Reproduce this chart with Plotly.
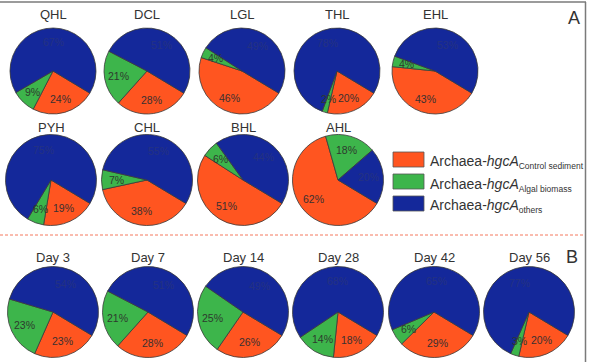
import math
import plotly.graph_objects as go

# ---------------- data ----------------
groups = ["QHL", "DCL", "LGL", "THL", "EHL",
          "PYH", "CHL", "BHL", "AHL",
          "Day 3", "Day 7", "Day 14", "Day 28", "Day 42", "Day 56"]
control_sediment = [24, 28, 46, 20, 43, 19, 38, 51, 62, 23, 28, 26, 18, 29, 20]
algal_biomass = [9, 21, 4, 2, 4, 6, 7, 6, 18, 23, 21, 25, 14, 6, 3]
others = [67, 51, 49, 78, 53, 75, 55, 44, 20, 54, 51, 49, 68, 65, 77]

series_labels = ["Control sediment", "Algal biomass", "others"]
series_colors = ["#FF5520", "#3DB54B", "#14289A"]
text_colors = ["#3a3030", "#2e3a2e", "#243282"]

# ---------------- layout helpers ----------------
W, H = 591, 362
FONT = "Liberation Sans, Arial, sans-serif"

centers = [(53, 71), (147, 71), (242, 71), (337, 71), (435, 71),
           (51, 180), (147, 180), (243, 180), (338, 180),
           (53, 312), (148, 312), (243, 312), (338, 312), (434, 312), (529, 312)]
diam = [86] * 5 + [91] * 4 + [91] * 6
title_y = [15] * 5 + [127] * 4 + [257] * 6
ROT = 121


def px(x):
    return x / W


def py(y):
    return 1 - y / H


fig = go.Figure()
annotations = []
shapes = []

for i, g in enumerate(groups):
    vals = [control_sediment[i], algal_biomass[i], others[i]]
    cx, cy = centers[i]
    d = diam[i]
    fig.add_trace(go.Pie(
        values=vals,
        labels=series_labels,
        sort=False,
        direction="clockwise",
        rotation=ROT,
        textinfo="none",
        marker=dict(colors=series_colors, line=dict(color="#3a3a3a", width=0.8)),
        domain=dict(x=[px(cx - d / 2), px(cx + d / 2)],
                    y=[py(cy + d / 2), py(cy - d / 2)]),
        showlegend=False,
        name=g,
    ))
    # slice labels placed at the middle angle of each slice
    tot = sum(vals)
    cum = 0
    R = d / 2
    for k, v in enumerate(vals):
        theta = math.radians(ROT + 360 * (cum + v / 2) / tot)
        cum += v
        lx = cx + 0.68 * R * math.sin(theta)
        ly = cy - 0.68 * R * math.cos(theta)
        annotations.append(dict(
            x=px(lx), y=py(ly), xref="paper", yref="paper",
            text=f"{v}%", showarrow=False,
            font=dict(family=FONT, size=10.5, color=text_colors[k]),
            xanchor="center", yanchor="middle"))
    annotations.append(dict(
        x=px(cx), y=py(title_y[i]), xref="paper", yref="paper",
        text=g, showarrow=False,
        font=dict(family=FONT, size=13, color="#333333"),
        xanchor="center", yanchor="middle"))

# panel letters
for letter, (lx, ly) in zip(["A", "B"], [(574, 18), (572, 257)]):
    annotations.append(dict(
        x=px(lx), y=py(ly), xref="paper", yref="paper", text=letter,
        showarrow=False, font=dict(family=FONT, size=18, color="#333333"),
        xanchor="center", yanchor="middle"))

# legend
leg_y = [159.5, 181.5, 203.5]
for k, name in enumerate(series_labels):
    yc = leg_y[k]
    shapes.append(dict(type="rect", xref="paper", yref="paper",
                       x0=px(393), x1=px(424), y0=py(yc + 7.5), y1=py(yc - 7.5),
                       fillcolor=series_colors[k],
                       line=dict(color="#555555", width=0.8)))
    annotations.append(dict(
        x=px(428), y=py(yc + 3), xref="paper", yref="paper",
        text=f"Archaea-<i>hgcA</i><sub><span style='font-size:8.5px'>{name}</span></sub>",
        showarrow=False, font=dict(family=FONT, size=14, color="#333333"),
        xanchor="left", yanchor="middle"))

# frame lines and separator
shapes.append(dict(type="line", xref="paper", yref="paper",
                   x0=0, x1=px(586), y0=py(2), y1=py(2),
                   line=dict(color="#7a7a7a", width=1.5)))
shapes.append(dict(type="line", xref="paper", yref="paper",
                   x0=px(585.5), x1=px(585.5), y0=py(2), y1=0,
                   line=dict(color="#7a7a7a", width=1.5)))
shapes.append(dict(type="line", xref="paper", yref="paper",
                   x0=0, x1=px(584), y0=py(235), y1=py(235),
                   line=dict(color="#F4785F", width=1, dash="3px,2px")))

fig.update_layout(
    width=W, height=H,
    margin=dict(l=0, r=0, t=0, b=0),
    paper_bgcolor="white", plot_bgcolor="white",
    annotations=annotations, shapes=shapes,
    font=dict(family=FONT),
)

fig.write_html("out.html")
